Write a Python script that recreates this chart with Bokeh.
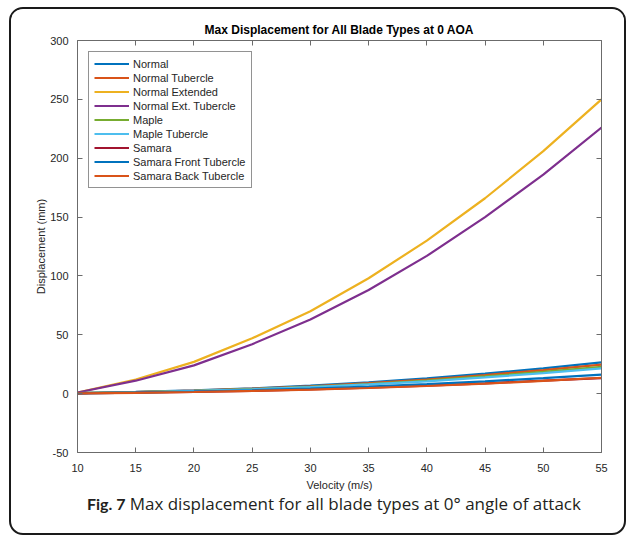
from bokeh.plotting import figure
from bokeh.layouts import column
from bokeh.models import (Legend, LegendItem, LinearAxis, SingleIntervalTicker,
                          Label, Range1d, CustomJSTickFormatter, Title)
from bokeh.embed import file_html
from bokeh.resources import INLINE

velocity = [10, 15, 20, 25, 30, 35, 40, 45, 50, 55]

series_names = ["Normal", "Normal Tubercle", "Normal Extended", "Normal Ext. Tubercle",
                "Maple", "Maple Tubercle", "Samara", "Samara Front Tubercle",
                "Samara Back Tubercle"]
series_colors = ["#0072BD", "#D95319", "#EDB120", "#7E2F8E", "#77AC30",
                 "#4DBEEE", "#A2142F", "#0072BD", "#D95319"]

normal = [0.5, 1.5, 2.8, 4.5, 6.8, 9.5, 13.0, 17.0, 21.5, 26.5]
normal_tubercle = [0.5, 1.4, 2.6, 4.2, 6.3, 8.9, 12.0, 15.8, 20.0, 24.6]
normal_extended = [1, 12, 27, 47, 70, 98, 130, 166, 206, 250]
normal_ext_tubercle = [1, 11, 24, 42, 63, 88, 117, 150, 186, 226]
maple = [0.4, 1.3, 2.4, 3.9, 5.8, 8.2, 11.1, 14.6, 18.5, 22.8]
maple_tubercle = [0.4, 1.2, 2.3, 3.7, 5.5, 7.8, 10.5, 13.8, 17.5, 21.5]
samara = [0.2, 0.8, 1.5, 2.4, 3.5, 5.0, 6.8, 8.8, 11.0, 13.2]
samara_front_tubercle = [0.3, 0.9, 1.8, 2.9, 4.3, 6.0, 8.1, 10.5, 13.2, 16.2]
samara_back_tubercle = [0.2, 0.7, 1.4, 2.3, 3.4, 4.8, 6.5, 8.5, 10.8, 13.5]

all_series = [normal, normal_tubercle, normal_extended, normal_ext_tubercle, maple,
              maple_tubercle, samara, samara_front_tubercle, samara_back_tubercle]

title_text = "Max Displacement for All Blade Types at 0 AOA"
x_label = "Velocity (m/s)"
y_label = "Displacement (mm)"
caption_bold = "Fig. 7"
caption_text = "Max displacement for all blade types at 0° angle of attack"

FONT = "Liberation Sans"
TXT = "#262626"
AX = "#6b6b6b"

p = figure(width=613, height=484, output_backend="svg", toolbar_location=None,
           x_range=Range1d(10, 55), y_range=Range1d(-50, 300),
           min_border_left=66, min_border_right=23, min_border_top=31,
           min_border_bottom=40)
p.xgrid.visible = False
p.ygrid.visible = False
p.outline_line_color = None
p.background_fill_color = "white"
p.border_fill_color = "white"

p.title = Title(text=title_text, align="center", text_font=FONT,
                text_font_size="12px", text_font_style="bold", text_color="black",
                standoff=0)

xt = SingleIntervalTicker(interval=5)
yt = SingleIntervalTicker(interval=50)
plain = CustomJSTickFormatter(code="return tick.toString();")
blank = CustomJSTickFormatter(code="return '';")

bottom_ax = p.xaxis[0]
left_ax = p.yaxis[0]
bottom_ax.ticker = xt
bottom_ax.axis_label = x_label
bottom_ax.formatter = plain
left_ax.ticker = yt
left_ax.axis_label = y_label
left_ax.formatter = plain

top_ax = LinearAxis(ticker=xt, formatter=blank, major_label_standoff=0)
right_ax = LinearAxis(ticker=yt, formatter=blank, major_label_standoff=0)
p.add_layout(top_ax, "above")
p.add_layout(right_ax, "right")

for ax in [bottom_ax, left_ax, top_ax, right_ax]:
    ax.major_tick_in = 5
    ax.major_tick_out = 0
    ax.minor_tick_line_color = None
    ax.axis_line_color = AX
    ax.major_tick_line_color = AX
    ax.major_label_text_font = FONT
    ax.major_label_text_color = TXT
    ax.major_label_text_font_size = "11px"
    ax.axis_label_text_font = FONT
    ax.axis_label_text_color = TXT
    ax.axis_label_text_font_style = "normal"
    ax.axis_label_text_font_size = "11px"

bottom_ax.major_label_standoff = 7
bottom_ax.axis_label_standoff = 4
left_ax.major_label_standoff = 5
left_ax.axis_label_standoff = 0

items = []
for name, color, vals in zip(series_names, series_colors, all_series):
    r = p.line(velocity, vals, line_color=color, line_width=2.2)
    items.append(LegendItem(label=name, renderers=[r]))

legend = Legend(items=items, location="top_left", margin=11, padding=5,
                spacing=1, glyph_width=35, glyph_height=13, label_height=13,
                label_standoff=4, label_text_font=FONT, label_text_font_size="11px",
                label_text_color=TXT, border_line_color="#262626",
                border_line_width=1, background_fill_alpha=1)
p.add_layout(legend, "center")

# caption strip (positions are pixel offsets within the strip)
cap = figure(width=613, height=40, output_backend="svg", toolbar_location=None,
             x_range=Range1d(0, 613), y_range=Range1d(0, 40),
             x_axis_type=None, y_axis_type=None, min_border=0)
cap.xgrid.visible = False
cap.ygrid.visible = False
cap.outline_line_color = None
cap.border_fill_color = None
cap.background_fill_color = None
cap.add_layout(Label(x=11, y=30, text=caption_bold,
                     text_font="Lato", text_font_size="16px", text_font_style="bold",
                     text_color="#231f20", text_align="left", text_baseline="middle"))
cap.add_layout(Label(x=61, y=30, text=caption_text,
                     text_font="Open Sans", text_font_size="17px",
                     text_color="#231f20", text_align="left", text_baseline="middle"))

layout = column(p, cap, spacing=0,
                styles={"border": "2px solid #1a1a1a", "border-radius": "14px",
                        "margin-left": "9px", "margin-top": "7px",
                        "overflow": "hidden", "background": "white"})

open("out.html", "w").write(file_html(layout, INLINE))
